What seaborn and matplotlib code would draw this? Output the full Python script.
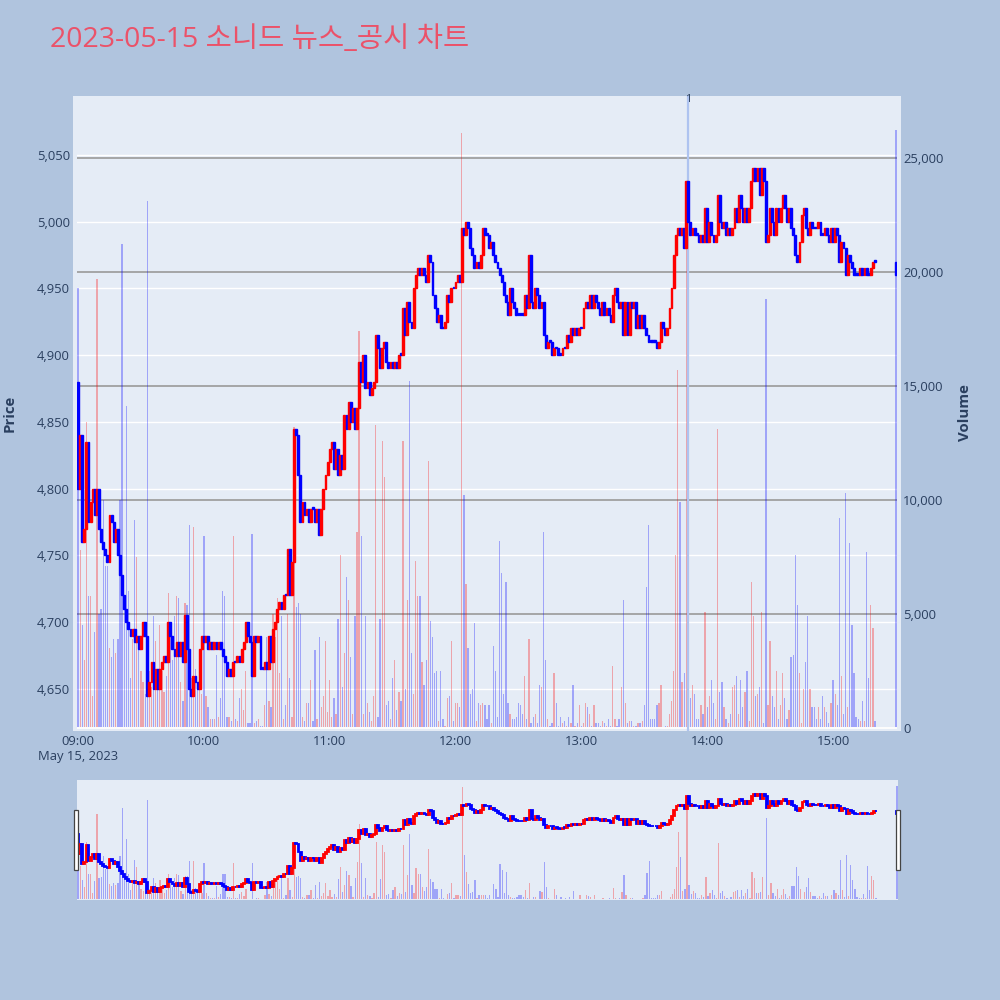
import numpy as np
import pandas as pd
import matplotlib
matplotlib.use("Agg")
import matplotlib.pyplot as plt
import matplotlib.transforms as mtransforms
from matplotlib.patches import Rectangle
from matplotlib.ticker import FuncFormatter
import seaborn as sns

plt.rcParams["font.family"] = ["Open Sans", "Noto Sans CJK KR", "DejaVu Sans"]

# Chart data (1 minute candles, minutes after 09:00, last one = 15:30 close)
minutes = list(range(0, 381)) + [390]

first_open = 4880

close = [
    4800, 4840, 4760, 4770, 4835, 4775, 4790, 4800, 4780, 4800,
    4770, 4760, 4755, 4750, 4745, 4780, 4775, 4760, 4770, 4750,
    4735, 4720, 4710, 4700, 4695, 4690, 4695, 4685, 4690, 4680,
    4690, 4700, 4690, 4645, 4655, 4670, 4650, 4665, 4650, 4665,
    4670, 4675, 4670, 4700, 4690, 4680, 4675, 4685, 4675, 4685,
    4670, 4705, 4680, 4650, 4645, 4660, 4655, 4650, 4680, 4690,
    4685, 4690, 4680, 4685, 4680, 4685, 4680, 4685, 4680, 4675,
    4670, 4660, 4665, 4660, 4670, 4670, 4675, 4670, 4680, 4685,
    4700, 4690, 4685, 4660, 4690, 4685, 4690, 4665, 4665, 4670,
    4665, 4690, 4670, 4695, 4700, 4710, 4715, 4710, 4720, 4720,
    4755, 4720, 4745, 4845, 4840, 4810, 4775, 4790, 4780, 4785,
    4775, 4785, 4785, 4775, 4785, 4765, 4785, 4800, 4810, 4820,
    4830, 4835, 4815, 4830, 4810, 4825, 4815, 4855, 4845, 4865,
    4850, 4860, 4845, 4860, 4895, 4880, 4900, 4875, 4880, 4870,
    4875, 4880, 4915, 4905, 4890, 4905, 4910, 4895, 4890, 4895,
    4890, 4895, 4890, 4900, 4900, 4935, 4915, 4940, 4925, 4920,
    4950, 4960, 4965, 4960, 4965, 4960, 4955, 4975, 4970, 4945,
    4935, 4925, 4930, 4920, 4920, 4925, 4945, 4940, 4950, 4950,
    4955, 4960, 4955, 4995, 4990, 5000, 4995, 4980, 4975, 4965,
    4970, 4965, 4975, 4995, 4990, 4990, 4980, 4985, 4975, 4970,
    4965, 4960, 4955, 4945, 4940, 4930, 4950, 4940, 4935, 4930,
    4930, 4930, 4930, 4945, 4935, 4975, 4940, 4935, 4950, 4945,
    4935, 4940, 4915, 4905, 4910, 4910, 4900, 4905, 4905, 4900,
    4900, 4905, 4905, 4915, 4910, 4920, 4915, 4920, 4915, 4920,
    4920, 4935, 4940, 4935, 4945, 4935, 4945, 4940, 4935, 4930,
    4940, 4930, 4935, 4930, 4925, 4945, 4950, 4940, 4935, 4940,
    4915, 4940, 4915, 4940, 4935, 4940, 4920, 4930, 4920, 4930,
    4920, 4915, 4910, 4910, 4910, 4910, 4905, 4910, 4925, 4920,
    4915, 4920, 4935, 4950, 4975, 4990, 4995, 4990, 4995, 4980,
    5030, 5000, 4990, 4995, 4990, 4990, 4985, 4990, 4985, 5010,
    4985, 5000, 4990, 4985, 4990, 5020, 5000, 4995, 5000, 4990,
    4995, 4990, 4995, 5010, 5000, 5020, 5010, 5000, 5010, 5000,
    5010, 5030, 5040, 5030, 5040, 5020, 5040, 5030, 4985, 4990,
    5010, 5000, 4990, 5010, 5000, 5010, 5020, 5010, 5000, 5010,
    4995, 4990, 4975, 4970, 4985, 5005, 5010, 4995, 4990, 5000,
    4995, 4995, 4995, 5000, 4990, 4990, 4995, 4990, 4985, 4995,
    4985, 4995, 4990, 4970, 4985, 4980, 4960, 4975, 4970, 4965,
    4960, 4960, 4960, 4965, 4960, 4965, 4960, 4960, 4965, 4970,
    4970,
    4960,
]

volume = [
    19300, 7800, 4500, 3000, 13400, 5800, 5800, 1400, 4200, 19700,
    5000, 5200, 10000, 7100, 7100, 3500, 3100, 3900, 3300, 3900,
    10000, 21200, 5800, 14100, 6000, 2200, 3900, 9100, 7500, 3900,
    2500, 2000, 1500, 23100, 2500, 1800, 4900, 3800, 2500, 4500,
    2500, 1600, 2300, 5900, 4500, 3000, 4900, 5800, 5700, 2000,
    1200, 5500, 5400, 8900, 2200, 8800, 2600, 1800, 3300, 1500,
    8400, 1400, 900, 400, 400, 400, 3200, 500, 1300, 6000,
    5800, 500, 500, 300, 8400, 400, 300, 1300, 1700, 800,
    2500, 200, 200, 8500, 200, 300, 400, 100, 100, 1000,
    4000, 1200, 900, 5000, 4000, 5700, 2400, 4900, 400, 1000,
    5000, 2200, 500, 13200, 5300, 5500, 5000, 500, 300, 1100,
    1100, 2100, 300, 3400, 400, 4000, 900, 1400, 3800, 700,
    2100, 500, 1300, 600, 4800, 7600, 1800, 3300, 6600, 5600,
    3100, 600, 4900, 8600, 17400, 8400, 600, 4900, 1100, 700,
    300, 1400, 13300, 500, 4800, 12600, 11000, 1000, 1200, 400,
    2200, 3000, 800, 1600, 1200, 12600, 1700, 5600, 15200, 3300,
    1500, 7300, 5800, 5800, 2900, 1900, 3000, 11700, 4700, 4000,
    2400, 2500, 300, 2500, 400, 100, 1300, 1400, 3800, 300,
    1100, 1100, 900, 26100, 10200, 6300, 3500, 1500, 1700, 4600,
    300, 1100, 1000, 1100, 1000, 400, 1000, 200, 3600, 2500,
    500, 8200, 6800, 1500, 6400, 1100, 600, 400, 400, 500,
    1100, 1000, 600, 2300, 400, 3900, 200, 500, 600, 200,
    1900, 1800, 8600, 3000, 400, 100, 200, 2400, 1100, 100,
    500, 200, 300, 100, 500, 200, 1900, 100, 200, 1000,
    100, 200, 1100, 900, 600, 100, 1000, 200, 200, 100,
    300, 200, 100, 400, 100, 2700, 400, 100, 400, 1800,
    5600, 1100, 200, 300, 300, 100, 100, 200, 200, 300,
    1000, 6200, 8900, 400, 400, 400, 1000, 1100, 1900, 0,
    100, 100, 600, 1200, 2500, 7600, 15700, 9900, 2000, 2400,
    22000, 3400, 1300, 1900, 1500, 400, 400, 1000, 600, 5100,
    900, 1400, 2100, 1100, 400, 13100, 1600, 2000, 900, 400,
    200, 600, 1800, 1900, 2300, 600, 2100, 900, 1600, 2500,
    300, 6400, 4900, 1400, 1500, 1800, 5100, 200, 18800, 1000,
    3800, 1400, 900, 2500, 400, 1000, 2400, 1300, 400, 800,
    3100, 3200, 7600, 5400, 2400, 200, 1700, 2900, 4900, 1700,
    900, 900, 400, 900, 400, 1400, 900, 700, 200, 1100,
    2100, 1500, 1000, 9200, 2300, 600, 10300, 900, 8100, 4500,
    2400, 500, 400, 300, 1200, 300, 7700, 2200, 5400, 4400,
    300,
    26200,
]

tick_minutes = [0, 60, 120, 180, 240, 300, 360]
tick_labels = ["09:00\nMay 15, 2023", "10:00", "11:00", "12:00",
               "13:00", "14:00", "15:00"]

news_minute = 291
news_label = "1"

price_ticks = [4650, 4700, 4750, 4800, 4850, 4900, 4950, 5000, 5050]
volume_ticks = [0, 5000, 10000, 15000, 20000, 25000]

title = "2023-05-15 소니드 뉴스_공시 차트"

# Build candle table
df = pd.DataFrame({"minute": minutes, "close": close, "volume": volume})
df["open"] = [first_open] + close[:-1]
df["direction"] = np.where(df["close"] > df["open"], "up", "down")
df["low"] = df[["open", "close"]].min(axis=1)
df["body"] = (df["close"] - df["open"]).abs().clip(lower=1.2)

UP = "#FF0000"
DOWN = "#0000FF"
palette = {"up": UP, "down": DOWN}
candle_colors = df["direction"].map(palette)

PAPER = "#B0C4DE"
PLOT_BG = "#E5ECF6"
TEXT = "#2a3f5f"

xlim = (-0.5, 390.5)
price_lim = (4618.5, 5094)
vol_lim = (-130, 27700)


def draw_traces(ax_v, ax_p, width, edge_lw):
    sns.histplot(
        data=df,
        x="minute",
        weights="volume",
        hue="direction",
        hue_order=["up", "down"],
        palette=palette,
        discrete=True,
        shrink=0.6,
        alpha=0.3,
        linewidth=0,
        legend=False,
        ax=ax_v
    )
    ax_p.bar(
        df["minute"],
        df["body"],
        bottom=df["low"],
        width=width,
        color=candle_colors,
        edgecolor=candle_colors,
        linewidth=edge_lw,
        zorder=3
    )
    for ax in (ax_v, ax_p):
        ax.set_xlim(*xlim)
        ax.set_xlabel("")
        ax.set_ylabel("")
        for s in ax.spines.values():
            s.set_visible(False)
    ax_v.set_ylim(*vol_lim)
    ax_p.set_ylim(*price_lim)


fig = plt.figure(figsize=(10, 10), dpi=100)
fig.patch.set_facecolor(PAPER)

# plot background is a little wider than the grid area
fig.add_artist(Rectangle((0.073, 0.269), 0.828, 0.635, transform=fig.transFigure,
                         facecolor=PLOT_BG, edgecolor="none", zorder=-1))

rect = [0.077, 0.269, 0.820, 0.635]
ax_bg = fig.add_axes(rect)
ax_v = fig.add_axes(rect)
ax_p = fig.add_axes(rect)
ax_bg.set_zorder(0)
ax_v.set_zorder(1)
ax_p.set_zorder(2)
ax_v.patch.set_alpha(0)
ax_p.patch.set_alpha(0)

# background axis: price grid and ticks
ax_bg.set_facecolor(PLOT_BG)
ax_bg.set_xlim(*xlim)
ax_bg.set_ylim(*price_lim)
ax_bg.set_yticks(price_ticks)
ax_bg.yaxis.set_major_formatter(FuncFormatter(lambda v, p: f"{v:,.0f}"))
ax_bg.grid(axis="y", color="white", linewidth=1.0)
ax_bg.set_xticks(tick_minutes)
ax_bg.set_xticklabels(tick_labels)
ax_bg.tick_params(axis="both", length=0, labelsize=9.4, colors=TEXT)
ax_bg.tick_params(axis="y", pad=5)
ax_bg.tick_params(axis="x", pad=3)
for s in ax_bg.spines.values():
    s.set_visible(False)

draw_traces(ax_v, ax_p, 0.9, 1.0)

# volume axis on the right
ax_v.set_yticks(volume_ticks)
ax_v.yaxis.tick_right()
ax_v.yaxis.set_major_formatter(FuncFormatter(lambda v, p: f"{v:,.0f}"))
ax_v.grid(axis="y", color="#a0a0a0", linewidth=1.3)
ax_v.set_axisbelow(True)
ax_v.axhline(0, color="white", linewidth=1.4, zorder=1)
ax_v.set_xticks([])
ax_v.tick_params(axis="y", length=0, labelsize=9.4, colors=TEXT, pad=4.5)

ax_p.set_xticks([])
ax_p.set_yticks([])

# news marker
ax_p.axvline(news_minute, color="#AEC3F0", linewidth=1.6, zorder=2)
trans = mtransforms.blended_transform_factory(ax_p.transData, ax_p.transAxes)
ax_p.text(news_minute, 0.995, news_label, transform=trans, ha="center", va="center",
          fontsize=8, color=TEXT, clip_on=False)

# axis titles and chart title
fig.text(0.010, 0.587, "Price", rotation=90, ha="center", va="center",
         fontsize=10.8, fontweight="bold", color=TEXT)
fig.text(0.965, 0.587, "Volume", rotation=90, ha="center", va="center",
         fontsize=10.8, fontweight="bold", color=TEXT)
fig.text(0.050, 0.960, title, ha="left", va="center", fontsize=20.5,
         color="#EB5269")

# range slider
srect = [0.077, 0.100, 0.821, 0.120]
sl_v = fig.add_axes(srect)
sl_p = fig.add_axes(srect)
sl_v.set_zorder(1)
sl_p.set_zorder(2)
sl_v.set_facecolor(PLOT_BG)
sl_p.patch.set_alpha(0)
draw_traces(sl_v, sl_p, 0.9, 1.3)
for ax in (sl_v, sl_p):
    ax.set_xticks([])
    ax.set_yticks([])

for hx in (0.0735, 0.8955):
    fig.add_artist(Rectangle((hx, 0.130), 0.0045, 0.060, transform=fig.transFigure,
                             facecolor="white", edgecolor="#444444",
                             linewidth=0.9, zorder=5))

plt.savefig("out.png", dpi=100, facecolor=PAPER)
plt.close()
